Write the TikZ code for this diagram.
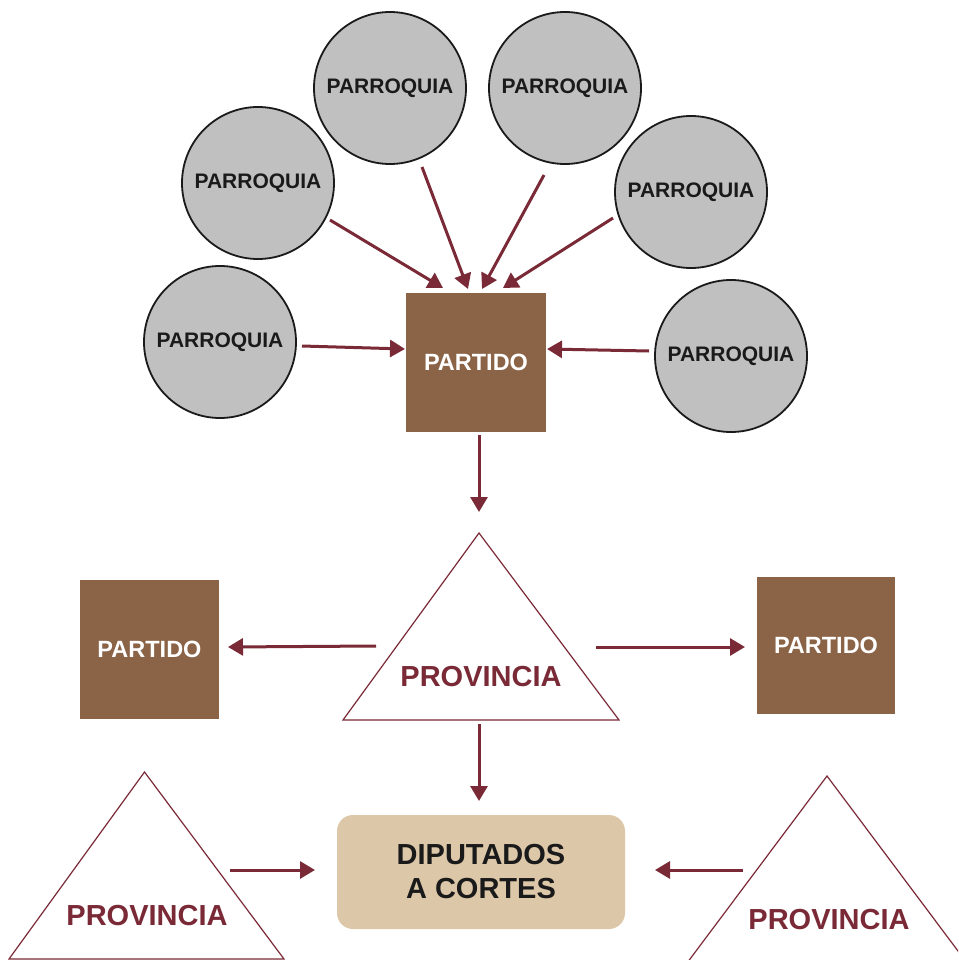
\documentclass[tikz,border=0pt]{standalone}
\usepackage{fontspec}
\setmainfont{Liberation Sans}
\usetikzlibrary{arrows.meta}
\definecolor{arr}{HTML}{7A2A36}
\definecolor{circfill}{HTML}{C0C0C0}
\definecolor{partbrown}{HTML}{8B6448}
\definecolor{dipfill}{HTML}{DCC8A9}
\definecolor{ink}{HTML}{1A1A1A}
\begin{document}
\begin{tikzpicture}[x=1pt,y=-1pt,
  parroquia/.style={circle,draw=ink,line width=1.8pt,fill=circfill,minimum size=152pt,inner sep=0pt,font=\fontsize{21}{25}\selectfont\bfseries,text=ink},
  partido/.style={rectangle,fill=partbrown,minimum width=140pt,minimum height=139pt,inner sep=0pt,font=\fontsize{23.5}{28}\selectfont\bfseries,text=white},
  provtxt/.style={font=\fontsize{29}{34}\selectfont\bfseries,text=arr,inner sep=0pt},
  tri/.style={draw=arr,line width=1.2pt,fill=white},
  conn/.style={draw=arr,line width=3pt,-{Triangle[length=15pt,width=17pt]}},
  dipbox/.style={rectangle,rounded corners=16pt,fill=dipfill,minimum width=288pt,minimum height=114pt,inner sep=0pt,font=\fontsize{29}{34}\selectfont\bfseries,text=ink,align=center}
]
\useasboundingbox (0,0) rectangle (958,960);
\clip (0,0) rectangle (958,960);

% parroquias
\node[parroquia] (p1) at (390,88) {PARROQUIA};
\node[parroquia] (p2) at (565,88) {PARROQUIA};
\node[parroquia] (p3) at (258,183) {PARROQUIA};
\node[parroquia] (p4) at (691,192) {PARROQUIA};
\node[parroquia] (p5) at (220,342) {PARROQUIA};
\node[parroquia] (p6) at (731,356) {PARROQUIA};

% partidos
\node[partido] (part) at (476,362.5) {PARTIDO};
\node[partido,minimum width=139pt] (partL) at (149.5,649.5) {PARTIDO};
\node[partido,minimum width=138pt,minimum height=137pt] (partR) at (826,645.5) {PARTIDO};

% triangles
\draw[tri] (479,533) -- (619,720) -- (343,720) -- cycle;
\node[provtxt] (prov) at (481,677) {PROVINCIA};
\draw[tri] (144.5,772) -- (284,959) -- (9,959) -- cycle;
\node[provtxt] (provL) at (147,916) {PROVINCIA};
\draw[tri] (827,776) -- (967,963) -- (687,963) -- cycle;
\node[provtxt] (provR) at (829,920) {PROVINCIA};

% diputados
\node[dipbox] (dip) at (481,872) {DIPUTADOS\\A CORTES};

% connector end points
\coordinate (s3) at (330,220);  \coordinate (t3) at (443,288);
\coordinate (s1) at (422,167);  \coordinate (t1) at (468,289);
\coordinate (s2) at (544,175);  \coordinate (t2) at (482,289);
\coordinate (s4) at (613,218);  \coordinate (t4) at (503,288);
\coordinate (s5) at (302,346);  \coordinate (t5) at (405,349);
\coordinate (s6) at (649,351);  \coordinate (t6) at (547,349);
\coordinate (sd) at (479,435);  \coordinate (td) at (479,512);
\coordinate (sl) at (376,646);  \coordinate (tl) at (228,647);
\coordinate (sr) at (596,647);  \coordinate (tr) at (745,647);
\coordinate (sv) at (479,724);  \coordinate (tv) at (479,801);
\coordinate (sbl) at (230,870); \coordinate (tbl) at (315,870);
\coordinate (sbr) at (743,870); \coordinate (tbr) at (655,870);

\draw[conn] (s3) -- (t3);
\draw[conn] (s1) -- (t1);
\draw[conn] (s2) -- (t2);
\draw[conn] (s4) -- (t4);
\draw[conn] (s5) -- (t5);
\draw[conn] (s6) -- (t6);
\draw[conn] (sd) -- (td);
\draw[conn] (sl) -- (tl);
\draw[conn] (sr) -- (tr);
\draw[conn] (sv) -- (tv);
\draw[conn] (sbl) -- (tbl);
\draw[conn] (sbr) -- (tbr);
\end{tikzpicture}
\end{document}
